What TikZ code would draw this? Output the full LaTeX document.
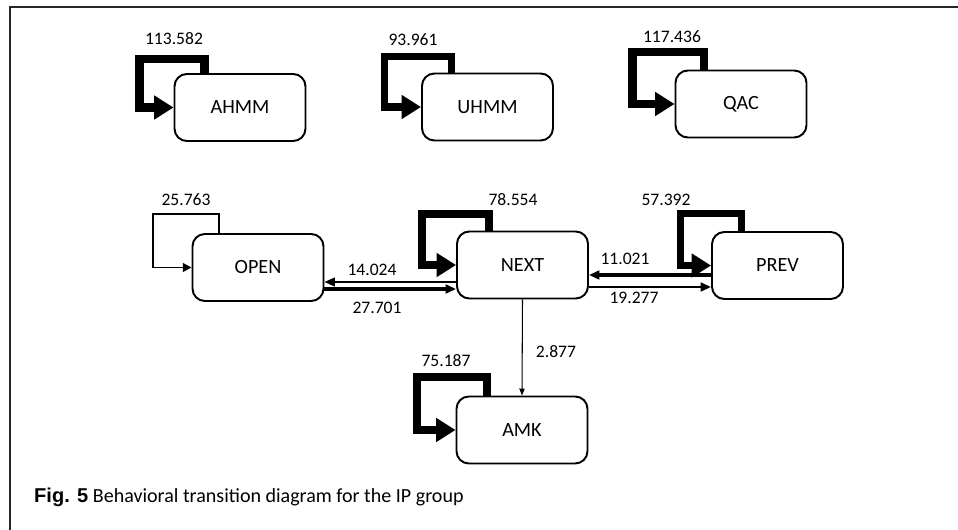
\documentclass[tikz,border=0pt]{standalone}
\usepackage{fontspec}
\setmainfont{Carlito}
\newfontfamily\figfont{Liberation Sans}
\usetikzlibrary{arrows.meta, positioning, calc}

\begin{document}
\begin{tikzpicture}[x=0.02cm, y=-0.02cm, >=latex,
  state/.style={draw, rounded corners=7pt, line width=1.1pt, minimum width=2.62cm,
    minimum height=1.34cm, font=\fontsize{11.5}{13}\selectfont},
  val/.style={font=\fontsize{10}{12}\selectfont, inner sep=0pt},
  bigloop/.style={line width=#1, -{Triangle[length=11pt, width=13pt]}},
  thinloop/.style={line width=#1, -{Triangle[length=5pt, width=5pt]}},
  trans/.style={line width=#1, -{Triangle[length=6pt, width=5pt]}}]

\useasboundingbox (0,0) rectangle (958,530);
\draw[line width=1.5pt, black!85] (958,7) -- (10,7) -- (10,530);

\node[state] (ahmm) at (240,107.5) {AHMM};
\node[state] (uhmm) at (487.5,107) {UHMM};
\node[state] (qac)  at (741,104)   {QAC};
\node[state] (open) at (258,267.5) {OPEN};
\node[state] (next) at (522.5,265) {NEXT};
\node[state] (prev) at (777.5,265.5) {PREV};
\node[state] (amk)  at (522,430)   {AMK};

\draw[bigloop=5pt] ($(ahmm.north west)+(31,0)$) -- ++(0,-14) -| ($(ahmm.west)+(-34,0)$) -- (ahmm.west);
\draw[bigloop=4pt] ($(uhmm.north west)+(30,0)$) -- ++(0,-16.5) -| ($(uhmm.west)+(-37,0)$) -- (uhmm.west);
\draw[bigloop=5pt] ($(qac.north west)+(29.5,0)$) -- ++(0,-17.5) -| ($(qac.west)+(-42,0)$) -- (qac.west);
\draw[thinloop=1.1pt] ($(open.north west)+(27.5,0)$) -- ++(0,-19) -| ($(open.west)+(-39,0)$) -- (open.west);
\draw[bigloop=4.5pt] ($(next.north west)+(33,0)$) -- ++(0,-16.5) -| ($(next.west)+(-34,0)$) -- (next.west);
\draw[bigloop=4pt] ($(prev.north west)+(30,0)$) -- ++(0,-18) -| ($(prev.west)+(-31,0)$) -- (prev.west);
\draw[bigloop=4.5pt] ($(amk.north west)+(31.5,0)$) -- ++(0,-18.5) -| ($(amk.west)+(-39,0)$) -- (amk.west);

\node[val] (vahmm) at (174,39)  {113.582};
\node[val] (vuhmm) at (413,40)  {93.961};
\node[val] (vqac)  at (672,37)  {117.436};
\node[val] (vopen) at (186,200) {25.763};
\node[val] (vnext) at (513,200) {78.554};
\node[val] (vprev) at (666,200) {57.392};
\node[val] (vamk)  at (446,361) {75.187};

\coordinate (yA) at (0,282);
\coordinate (yB) at (0,289);
\coordinate (yC) at (0,275);
\coordinate (yD) at (0,287);

\draw[trans=1.1pt] (next.west |- yA) -- (open.east |- yA);
\draw[trans=2.5pt] (open.east |- yB) -- (next.west |- yB);
\draw[trans=2.3pt] (prev.west |- yC) -- (next.east |- yC);
\draw[trans=1.7pt] (next.east |- yD) -- (prev.west |- yD);
\draw[line width=0.6pt, -{Triangle[length=4pt, width=3pt]}] (next.south) -- (amk.north);

\node[val] (tno) at (372,270) {14.024};
\node[val] (ton) at (377,308) {27.701};
\node[val] (tpn) at (625,259) {11.021};
\node[val] (tnp) at (634,298) {19.277};
\node[val] (tna) at (556,352) {2.877};

\node[anchor=west, font=\fontsize{11.4}{13}\selectfont] (cap) at (28,497)
  {{\figfont\bfseries Fig. 5} Behavioral transition diagram for the IP group};

\end{tikzpicture}
\end{document}
